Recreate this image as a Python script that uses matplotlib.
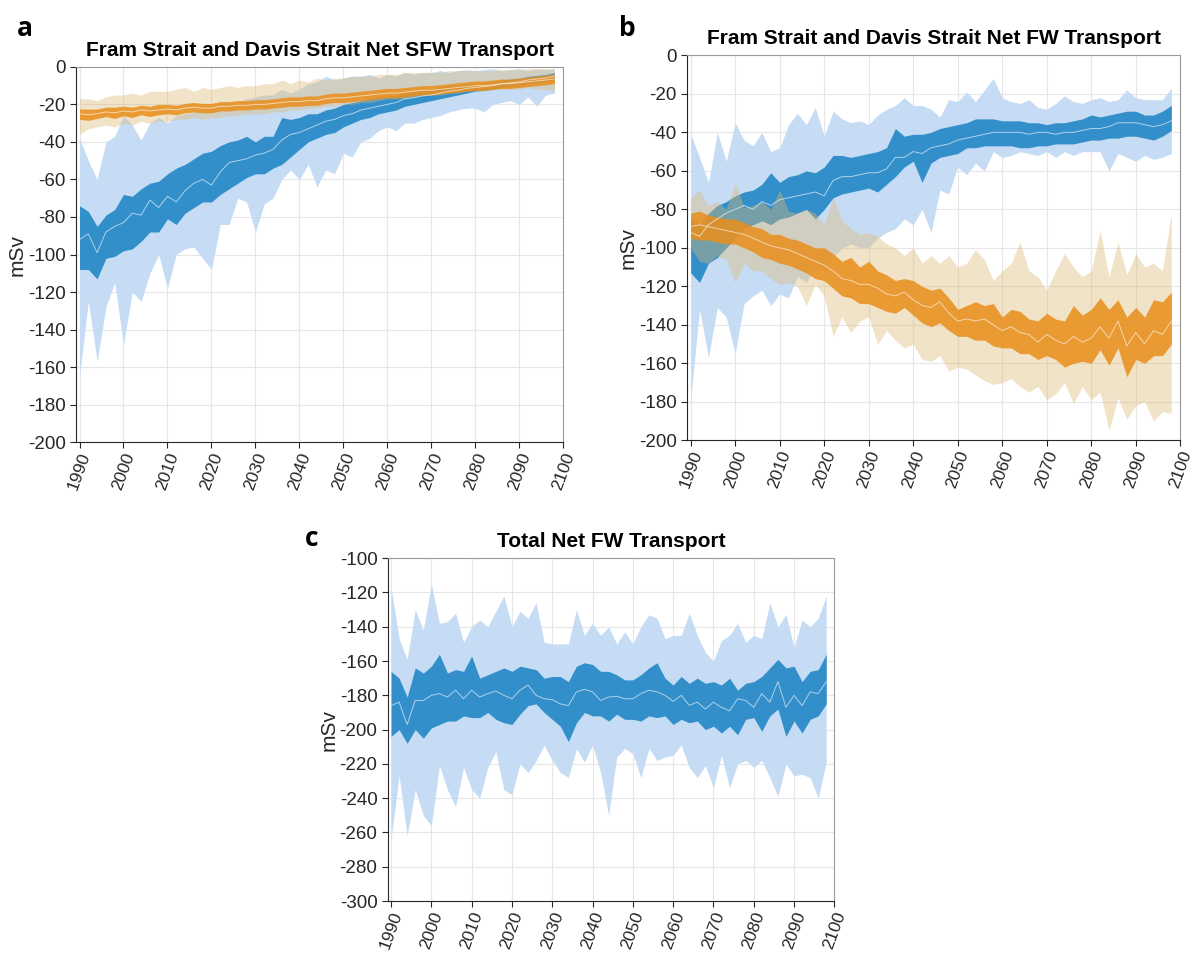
import numpy as np
import matplotlib
matplotlib.use('Agg')
import matplotlib.pyplot as plt

# years sampled every 2 years
years = np.arange(1990, 2100, 2)

# ---- panel a: net SFW transport (blue and orange ensembles) ----
a_blue_med = [-92, -89, -99, -88, -85, -83, -78, -79, -71, -75,
              -69, -72, -66, -62, -60, -63, -56, -51, -50, -49,
              -47, -46, -44, -39, -36, -35, -33, -31, -29, -28,
              -26, -25, -23, -22, -21, -20, -19, -17, -16.5, -15.5,
              -15, -14, -13, -12.5, -11.5, -11, -10.5, -10, -9, -8.5,
              -8, -7, -6.5, -6, -5]
a_blue_in_hi = [-74, -77, -85, -79, -76, -68, -69, -65, -62, -61,
                -57, -54, -52, -49, -46, -45, -42, -40, -39, -37,
                -40, -37, -37, -27, -28, -27, -25, -25, -23, -22,
                -20, -19, -18, -17, -16, -15.5, -15, -13.5, -13, -12,
                -12, -11, -10, -10, -9, -9, -8.5, -8, -7, -6.5,
                -6, -5, -4.5, -4, -3]
a_blue_in_lo = [-108, -108, -113, -102, -101, -98, -97, -93, -88, -88,
                -81, -84, -78, -75, -72, -72, -68, -65, -62, -59,
                -57, -57, -54, -52, -48, -44, -40, -38, -36, -35,
                -32, -30, -28, -27, -25, -24, -23, -21, -20, -19,
                -18, -17, -16, -15, -14, -13, -12.5, -12, -11, -10.5,
                -10, -9, -8.5, -8, -7]
a_blue_out_hi = [-38, -50, -60, -40, -37, -26, -31, -39, -30, -27,
                 -30, -26, -25, -24, -22, -22, -20, -19, -19, -17,
                 -16, -15, -15, -12, -14, -12, -9, -8, -5, -7,
                 -6, -5, -5, -4, -6, -4, -5, -3, -4, -3,
                 -3, -2, -3, -2, -1.5, -2, -1.5, -1, -2, -1.5,
                 -1, -2, -1, -1.5, -1]
a_blue_out_lo = [-165, -125, -157, -128, -115, -148, -120, -125, -110, -100,
                 -118, -100, -97, -96, -102, -108, -84, -84, -70, -72,
                 -88, -73, -70, -60, -55, -60, -52, -64, -55, -57,
                 -46, -48, -40, -38, -34, -32, -34, -30, -30, -28,
                 -27, -26, -24, -23, -22, -22, -24, -20, -19, -18,
                 -20, -16, -21, -15, -14]

a_or_med = [-25, -25.5, -25, -24, -24.5, -23.5, -24, -23, -23.5, -23,
            -22.5, -23, -22, -21.5, -22, -22, -21, -21, -20.5, -20.5,
            -20, -20, -19.5, -19, -18.5, -18.5, -18, -18, -17, -16.5,
            -16.5, -16, -15.5, -15, -14.5, -14, -14, -13.5, -13, -12.5,
            -12.5, -12, -11.5, -11, -10.5, -10, -10, -9.5, -9, -9,
            -8.5, -8, -7.5, -7, -6.5]
a_or_in_hi = [-22.5, -22.5, -22.5, -21.5, -21.5, -21, -21.5, -20.5, -21, -20,
              -20, -20.5, -19.5, -19, -19.5, -19.5, -18.5, -18.5, -18, -18,
              -17.5, -17.5, -17, -16.5, -16, -16, -15.5, -15.5, -14.5, -14,
              -14, -13.5, -13, -12.5, -12, -11.5, -11.5, -11, -10.5, -10,
              -10, -9.5, -9, -8.5, -8, -7.5, -7.5, -7, -6.5, -6.5,
              -6, -5.5, -5, -4.5, -4]
a_or_in_lo = [-28, -28.5, -27.5, -26.5, -27.5, -26, -27, -25.5, -26.5, -25.5,
              -25, -25.5, -24.5, -24, -24.5, -24.5, -23.5, -23.5, -23, -23,
              -22.5, -22.5, -22, -21.5, -21, -21, -20.5, -20.5, -19.5, -19,
              -19, -18.5, -18, -17.5, -17, -16.5, -16.5, -16, -15.5, -15,
              -15, -14.5, -14, -13.5, -13, -12.5, -12.5, -12, -11.5, -11.5,
              -11, -10.5, -10, -9.5, -9]
a_or_out_hi = [-17, -17, -18, -16, -15, -15, -14, -15, -13, -13,
               -13, -12, -11, -13, -11, -12, -11, -10, -11, -10,
               -10, -9, -9, -7, -9, -7, -8, -6, -7, -6,
               -6, -5, -5, -5, -4, -4, -4, -3, -3, -3,
               -3, -3, -2, -2, -2, -2, -2, -2, -1.5, -1.5,
               -1.5, -1, -1, -1, -1]
a_or_out_lo = [-36, -33, -32, -31, -32, -30, -31, -29, -30, -29,
               -29, -28, -28, -27, -28, -27, -27, -26, -26, -25,
               -25, -25, -24, -24, -23, -23, -22, -22, -21, -21,
               -20, -20, -19, -19, -18, -17, -17, -17, -16, -15,
               -15, -15, -14, -14, -13, -13, -13, -12, -12, -12,
               -12, -11, -12, -12, -13]

# ---- panel b: net FW transport ----
b_blue_med = [-92, -94, -88, -85, -82, -80, -78, -80, -76, -78,
              -75, -74, -73, -72, -71, -73, -65, -63, -63, -62,
              -61, -61, -59, -53, -53, -50, -51, -48, -47, -46,
              -44, -43, -42, -41, -40, -40, -40, -40, -41, -40,
              -40, -41, -40, -40, -39, -38, -38, -37, -35, -35,
              -35, -36, -37, -36, -34]
b_blue_in_hi = [-85, -88, -82, -78, -76, -73, -71, -70, -67, -61,
                -66, -63, -62, -60, -61, -58, -52, -52, -53, -52,
                -51, -50, -48, -38, -42, -41, -41, -40, -38, -37,
                -36, -35, -33, -33, -33, -34, -34, -34, -35, -35,
                -36, -35, -35, -34, -33, -31, -32, -31, -30, -29,
                -29, -31, -31, -29, -26]
b_blue_in_lo = [-113, -118, -108, -105, -100, -95, -90, -88, -86, -88,
                -85, -84, -82, -80, -85, -80, -74, -72, -71, -70,
                -69, -71, -67, -63, -58, -55, -66, -56, -53, -52,
                -51, -48, -48, -47, -47, -47, -47, -48, -48, -47,
                -47, -46, -46, -46, -45, -44, -44, -43, -43, -42,
                -42, -43, -44, -42, -39]
b_blue_out_hi = [-41, -53, -66, -40, -55, -35, -44, -47, -40, -50,
                 -48, -36, -30, -36, -27, -42, -29, -33, -35, -34,
                 -36, -31, -28, -26, -22, -26, -26, -28, -32, -23,
                 -24, -19, -24, -18, -12, -22, -24, -25, -23, -27,
                 -28, -25, -21, -24, -25, -23, -22, -24, -23, -18,
                 -22, -23, -23, -23, -17]
b_blue_out_lo = [-179, -132, -157, -131, -136, -155, -129, -125, -122, -130,
                 -124, -126, -115, -118, -110, -112, -105, -100, -98, -100,
                 -100, -95, -92, -90, -85, -88, -80, -92, -70, -72,
                 -58, -62, -56, -60, -50, -53, -52, -50, -51, -52,
                 -50, -53, -50, -52, -50, -50, -50, -60, -51, -53,
                 -55, -52, -54, -53, -51]

b_or_med = [-89, -88, -89, -90, -91, -92, -93, -95, -97, -99,
            -100, -101, -103, -105, -107, -109, -112, -116, -117, -119,
            -119, -121, -124, -125, -123, -127, -130, -131, -128, -134,
            -138, -137, -138, -137, -140, -143, -141, -144, -145, -149,
            -145, -148, -150, -146, -149, -147, -141, -147, -138, -151,
            -144, -150, -143, -145, -138]
b_or_in_hi = [-82, -81, -83, -84, -85, -85, -87, -89, -90, -93,
              -93, -95, -96, -98, -100, -100, -103, -107, -105, -110,
              -107, -112, -114, -117, -116, -117, -120, -122, -121, -126,
              -132, -130, -128, -130, -129, -136, -132, -133, -137, -138,
              -134, -137, -138, -130, -135, -132, -126, -132, -127, -136,
              -131, -136, -127, -128, -123]
b_or_in_lo = [-95, -96, -96, -97, -98, -98, -100, -102, -105, -106,
              -108, -109, -111, -113, -116, -117, -121, -125, -126, -129,
              -129, -131, -133, -134, -131, -135, -139, -141, -139, -143,
              -146, -146, -148, -148, -151, -152, -152, -155, -155, -158,
              -156, -158, -162, -160, -159, -160, -153, -161, -152, -167,
              -158, -160, -156, -156, -150]
b_or_out_hi = [-74, -70, -78, -76, -80, -66, -79, -78, -76, -80,
               -70, -81, -82, -80, -82, -88, -74, -86, -90, -93,
               -92, -94, -98, -100, -104, -100, -108, -104, -108, -104,
               -110, -108, -101, -106, -117, -112, -108, -97, -112, -115,
               -122, -112, -103, -110, -115, -112, -91, -115, -97, -114,
               -103, -110, -108, -112, -82]
b_or_out_lo = [-100, -107, -108, -104, -106, -118, -108, -112, -112, -116,
               -119, -118, -120, -130, -119, -125, -146, -136, -144, -138,
               -136, -150, -143, -148, -152, -150, -158, -159, -156, -164,
               -162, -163, -166, -169, -171, -170, -168, -172, -175, -172,
               -179, -176, -170, -181, -172, -179, -175, -195, -178, -189,
               -182, -180, -190, -185, -186]

# ---- panel c: total net FW transport ----
c_med = [-186, -184, -197, -183, -183, -180, -179, -181, -177, -182,
         -177, -181, -179, -177.5, -180, -182, -177, -174, -180, -182,
         -182.5, -185, -186, -178, -176.5, -178, -183, -181, -180.5, -182,
         -182, -179, -177, -178, -180, -183.5, -180, -185.8, -184, -188,
         -184, -187, -189, -182, -183, -187, -179, -184, -172, -187,
         -180, -186, -178, -179, -172]
c_in_hi = [-166, -170, -181, -164, -167, -163, -156, -167, -165, -166,
           -157, -170, -168, -166, -164, -166, -163, -164, -165, -170,
           -169, -169, -172, -163, -161, -162, -166, -166, -168, -171,
           -171, -168, -164, -161, -170, -174, -169, -173, -170, -173,
           -172, -174, -170, -177, -173, -172, -169, -164, -159, -164,
           -163, -172, -166, -165, -156]
c_in_lo = [-204, -200, -208, -200, -205, -199, -197, -195, -195, -192,
           -193, -193, -190, -194, -196, -197, -191, -186, -185, -190,
           -194, -198, -207, -196, -190, -192, -192, -195, -191, -194,
           -194, -195, -192, -193, -192, -197, -194, -196, -195, -200,
           -198, -202, -198, -203, -194, -193, -201, -192, -188, -204,
           -195, -202, -194, -192, -185]
c_out_hi = [-117, -147, -159, -130, -142, -115, -138, -137, -132, -149,
            -140, -136, -140, -131, -122, -140, -131, -135, -126, -149,
            -150, -150, -150, -130, -145, -138, -145, -140, -150, -143,
            -150, -140, -133, -135, -147, -145, -145, -132, -145, -155,
            -160, -148, -145, -138, -149, -145, -147, -126, -140, -133,
            -152, -136, -140, -135, -122]
c_out_lo = [-264, -227, -262, -235, -250, -256, -221, -235, -245, -222,
            -235, -240, -222, -213, -235, -238, -220, -225, -218, -209,
            -218, -225, -228, -211, -219, -209, -225, -250, -216, -211,
            -214, -228, -211, -218, -216, -215, -209, -222, -228, -221,
            -234, -215, -234, -220, -218, -222, -218, -228, -239, -220,
            -227, -226, -228, -240, -219]

# colours
blue_light = '#c6dcf5'
blue_dark = '#338fca'
or_light = '#ddb975'
or_dark = '#e8901f'


def draw_band(ax, med, in_lo, in_hi, out_lo, out_hi, kind):
    if kind == 'blue':
        ax.fill_between(years, out_lo, out_hi, color=blue_light, lw=0)
        ax.fill_between(years, in_lo, in_hi, color=blue_dark, lw=0)
    else:
        ax.fill_between(years, out_lo, out_hi, color=or_light, alpha=0.4, lw=0)
        ax.fill_between(years, in_lo, in_hi, color=or_dark, alpha=0.88, lw=0)
    ax.plot(years, med, color='white', lw=0.7, alpha=0.6)


def style_axes(ax, title, ylim):
    ax.set_xlim(1989.2, 2100)
    ax.set_ylim(*ylim)
    ax.set_xticks(np.arange(1990, 2101, 10))
    ax.set_yticks(np.arange(ylim[0], ylim[1] + 1, 20))
    ax.tick_params(direction='out', length=4, width=0.8, colors='#262626')
    ax.tick_params(axis='y', labelsize=13.5)
    ax.tick_params(axis='x', labelrotation=70, labelsize=12.5, pad=2)
    ax.grid(True, color='#e6e6e6', lw=0.8)
    ax.set_axisbelow(True)
    for s in ['left', 'bottom']:
        ax.spines[s].set_color('#262626')
        ax.spines[s].set_linewidth(0.8)
    for s in ['top', 'right']:
        ax.spines[s].set_color('#9a9a9a')
        ax.spines[s].set_linewidth(0.8)
    ax.set_ylabel('mSv', fontsize=15, color='#262626', labelpad=1)
    ax.set_title(title, fontsize=15, fontweight='bold', pad=8)


plt.rcParams['font.family'] = ['Liberation Sans', 'DejaVu Sans']
plt.rcParams['axes.unicode_minus'] = False
fig = plt.figure(figsize=(11.97, 9.55), dpi=100)

ax_a = fig.add_axes([0.0635, 0.537, 0.407, 0.393])
draw_band(ax_a, a_blue_med, a_blue_in_lo, a_blue_in_hi, a_blue_out_lo, a_blue_out_hi, 'blue')
draw_band(ax_a, a_or_med, a_or_in_lo, a_or_in_hi, a_or_out_lo, a_or_out_hi, 'orange')
style_axes(ax_a, 'Fram Strait and Davis Strait Net SFW Transport', (-200, 0))

ax_b = fig.add_axes([0.574, 0.539, 0.412, 0.403])
draw_band(ax_b, b_blue_med, b_blue_in_lo, b_blue_in_hi, b_blue_out_lo, b_blue_out_hi, 'blue')
draw_band(ax_b, b_or_med, b_or_in_lo, b_or_in_hi, b_or_out_lo, b_or_out_hi, 'orange')
style_axes(ax_b, 'Fram Strait and Davis Strait Net FW Transport', (-200, 0))

ax_c = fig.add_axes([0.324, 0.0565, 0.373, 0.359])
draw_band(ax_c, c_med, c_in_lo, c_in_hi, c_out_lo, c_out_hi, 'blue')
style_axes(ax_c, 'Total Net FW Transport', (-300, -100))

# panel letters
for lab, x, y in [('a', 0.014, 0.962), ('b', 0.517, 0.962), ('c', 0.255, 0.428)]:
    fig.text(x, y, lab, fontsize=19, fontweight='bold', family='Open Sans')

fig.savefig('out.png', dpi=100)
